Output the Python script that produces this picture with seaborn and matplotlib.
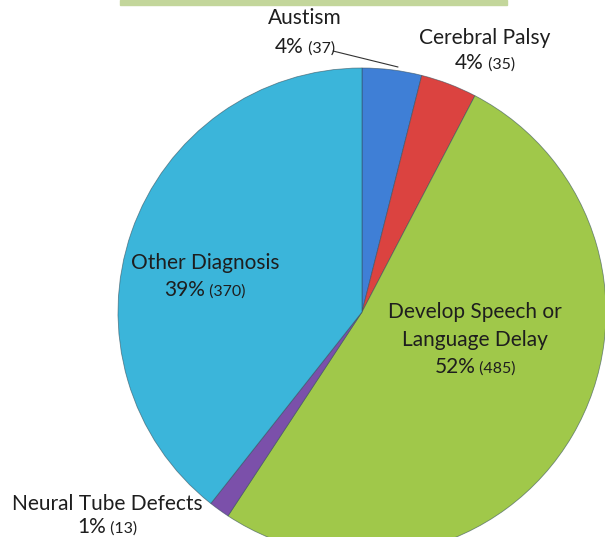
import matplotlib
matplotlib.use("Agg")
import matplotlib.pyplot as plt
import seaborn as sns

categories = ["Austism", "Cerebral Palsy", "Develop Speech or\nLanguage Delay",
              "Neural Tube Defects", "Other Diagnosis"]
values = [37, 35, 485, 13, 370]
colors = ["#3f7fd6", "#db4340", "#a0c84a", "#7b50aa", "#3bb5da"]

sns.set_theme(style="white")
plt.rcParams['font.family'] = ['Lato', 'DejaVu Sans']

W, H = 605, 537
fig = plt.figure(figsize=(W / 100, H / 100), dpi=100)
cx, cy, R = 362, 312, 244
ax = fig.add_axes([(cx - R) / W, (H - cy - R) / H, 2 * R / W, 2 * R / H])

wedges, _ = ax.pie(values, colors=colors, startangle=90, counterclock=False,
                   radius=1.0, center=(0, 0),
                   wedgeprops=dict(edgecolor=(0.2, 0.3, 0.35, 0.6), linewidth=0.6))
ax.set_xlim(-1, 1)
ax.set_ylim(-1, 1)
ax.set_aspect("equal")
ax.axis("off")
for w in wedges:
    w.set_clip_on(False)

# top green band
fig.patches.append(plt.Rectangle((120 / W, (H - 5) / H), (507 - 120) / W, 5 / H,
                                 transform=fig.transFigure, color="#c3d69b",
                                 zorder=0))

total = sum(values)
TXT = "#1e1e1e"
FS_MAIN = 15.0
FS_SMALL = 11.5
renderer = fig.canvas.get_renderer()


def pct_line(x, y, v):
    pct = f"{round(100 * v / total)}%"
    cnt = f" ({v})"
    t1 = ax.text(0, 0, pct, fontsize=FS_MAIN, color=TXT, ha="left", va="center")
    t2 = ax.text(0, 0, cnt, fontsize=FS_SMALL, color=TXT, ha="left", va="center")
    b1 = t1.get_window_extent(renderer)
    b2 = t2.get_window_extent(renderer)
    unit = ax.transData.transform((1, 0))[0] - ax.transData.transform((0, 0))[0]
    w1 = b1.width / unit
    w2 = b2.width / unit
    x0 = x - (w1 + w2) / 2
    t1.set_position((x0, y))
    t2.set_position((x0 + w1, y - 0.006))


def label(name, x, ys, v):
    lines = name.split("\n")
    for ln, yy in zip(lines, ys):
        ax.text(x, yy, ln, fontsize=FS_MAIN, color=TXT, ha="center", va="center")
    pct_line(x, ys[len(lines)], v)


def d(px, py):
    return (px - cx) / R, (cy - py) / R


# Austism
x, y1 = d(305, 18)
_, y2 = d(300, 47)
label(categories[0], x, [y1, y2], values[0])
ax.plot([d(333, 51)[0], d(398, 67)[0]], [d(333, 51)[1], d(398, 67)[1]],
        color="#333333", lw=0.8, clip_on=False)
# Cerebral Palsy
x, y1 = d(485, 38)
_, y2 = d(485, 63)
label(categories[1], x, [y1, y2], values[1])
# Develop
x, y1 = d(475, 312)
_, y2 = d(475, 340)
_, y3 = d(475, 367)
label(categories[2], x, [y1, y2, y3], values[2])
# Neural tube
x, y1 = d(107, 504)
_, y2 = d(107, 527)
label(categories[3], x, [y1, y2], values[3])
# Other
x, y1 = d(205, 263)
_, y2 = d(205, 290)
label(categories[4], x, [y1, y2], values[4])

for t in ax.texts:
    t.set_clip_on(False)

fig.savefig("out.png", dpi=100)
